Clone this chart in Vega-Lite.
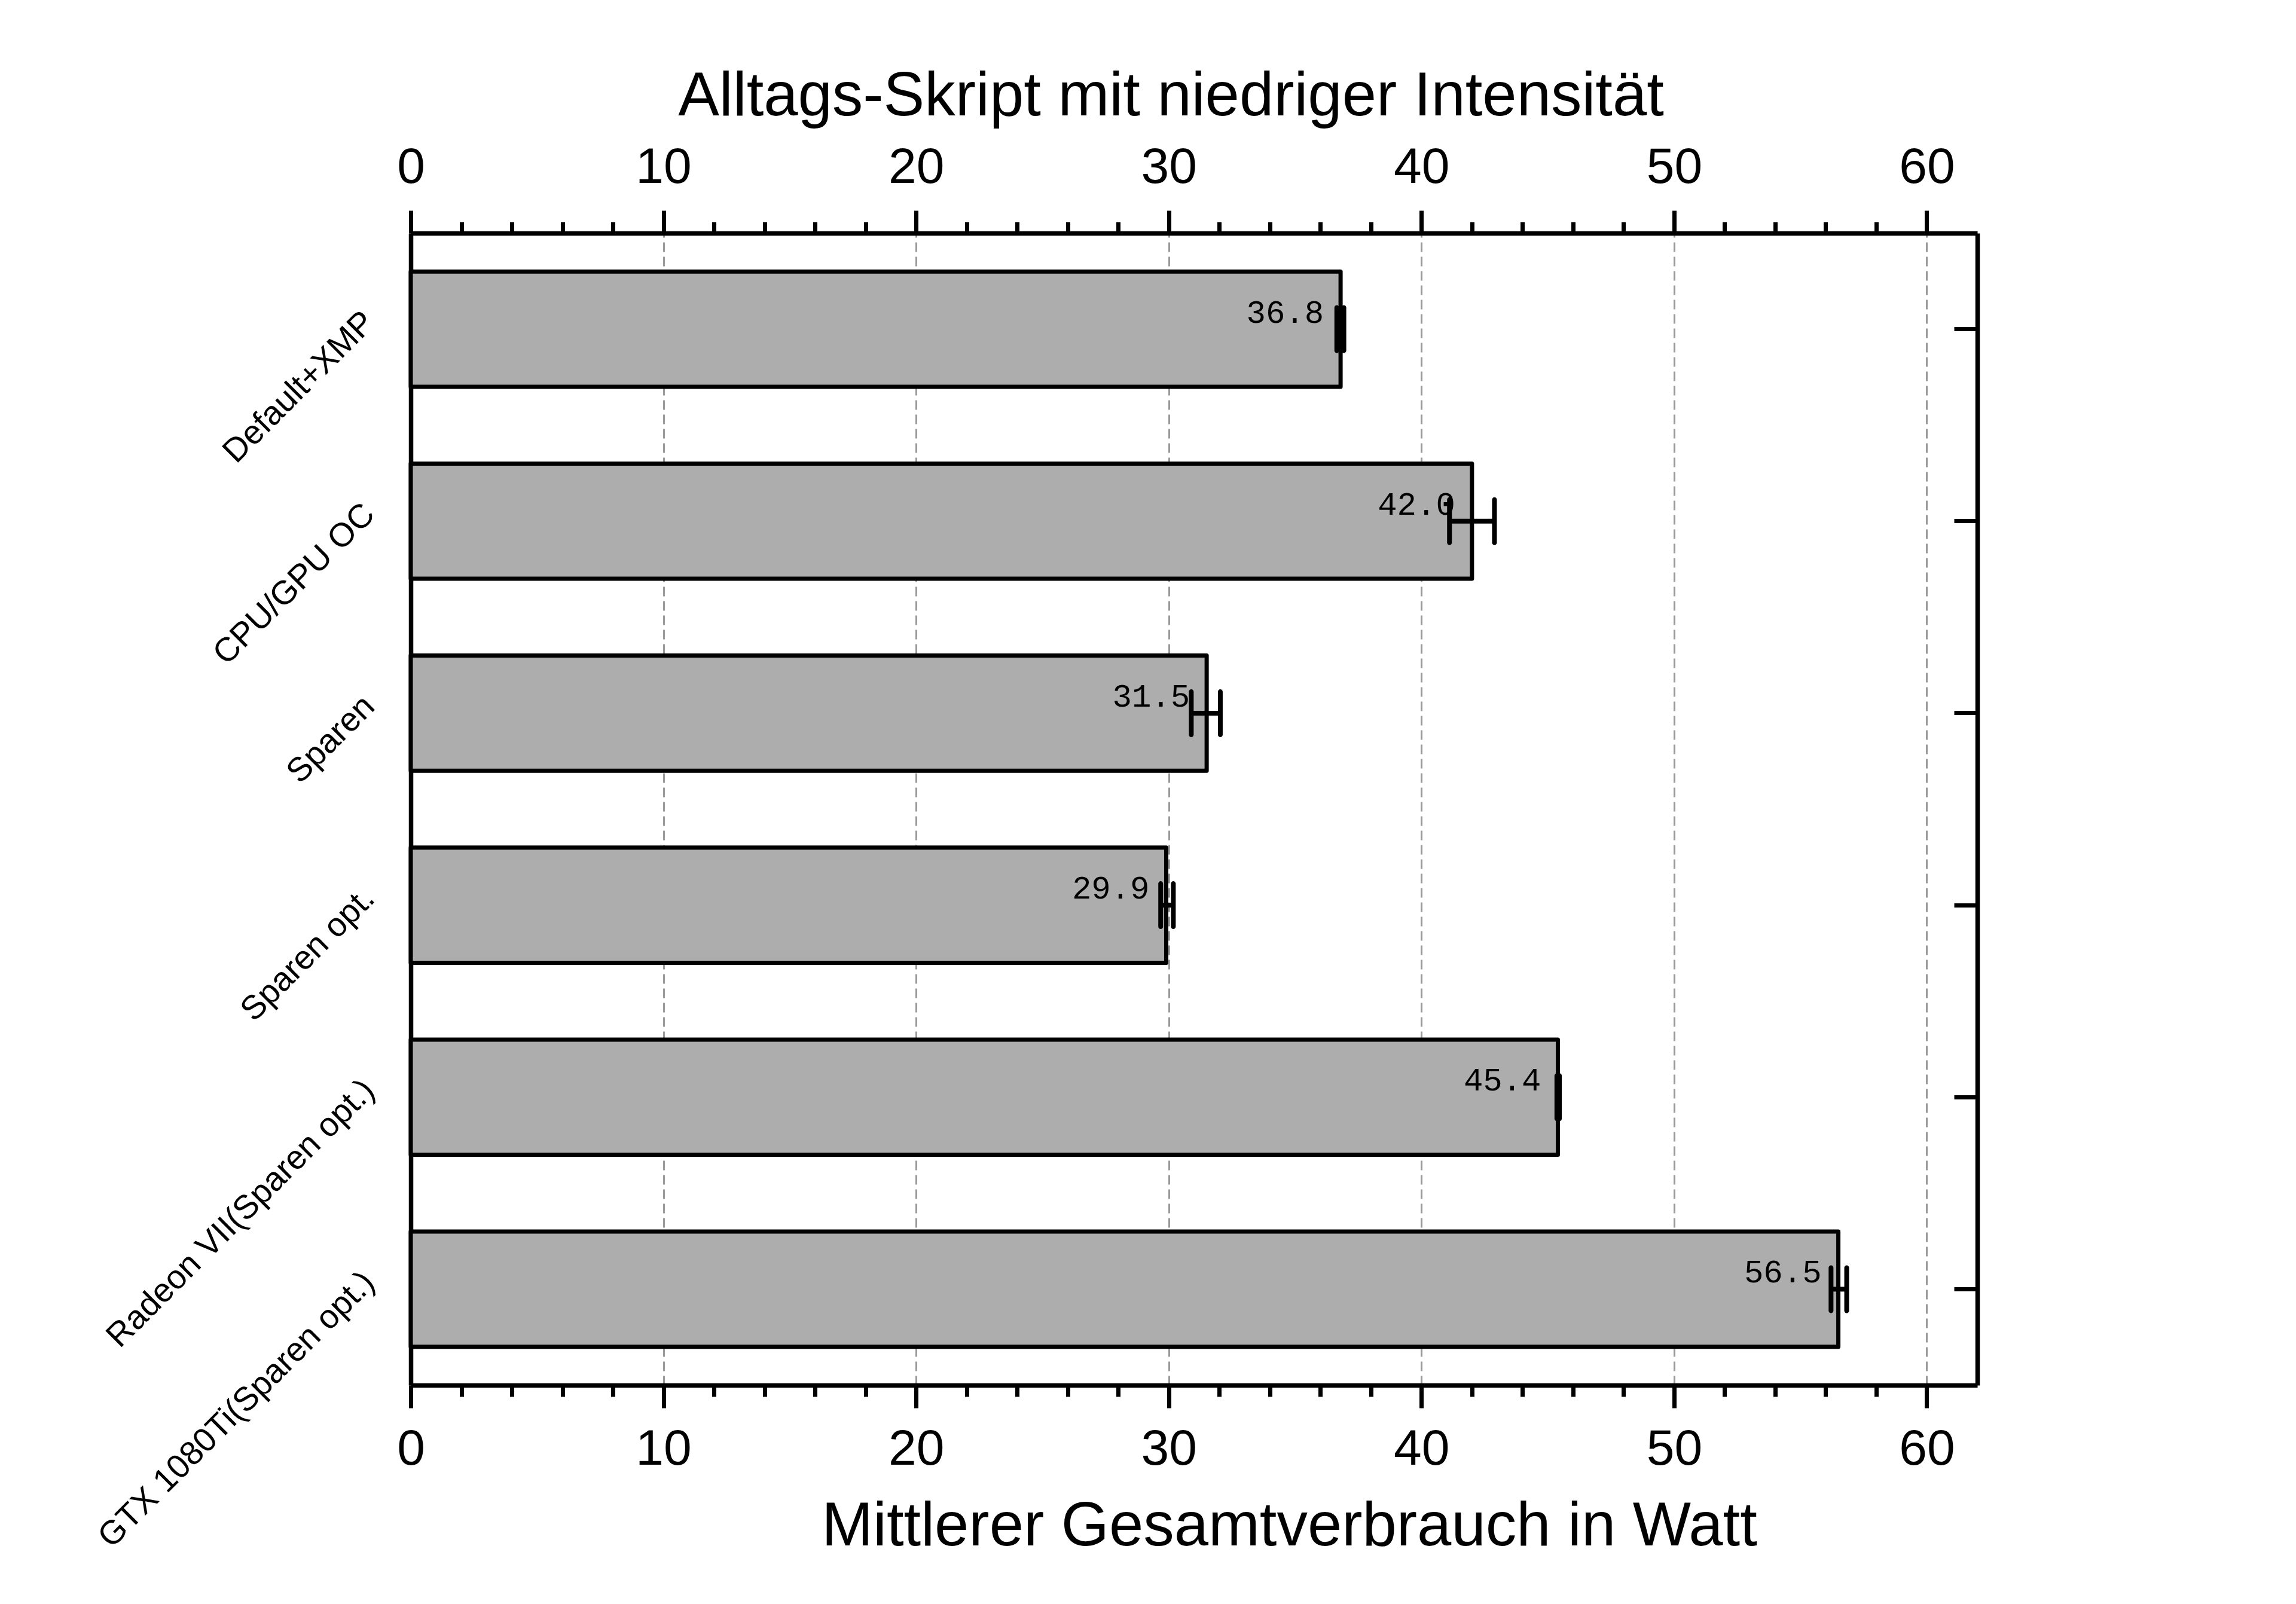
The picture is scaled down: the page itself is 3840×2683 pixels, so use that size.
{
  "$schema": "https://vega.github.io/schema/vega-lite/v6.json",
  "width": 2620,
  "height": 1927,
  "autosize": "none",
  "padding": {"left": 687, "top": 390, "right": 533, "bottom": 366},
  "background": "white",
  "config": {"view": {"stroke": null}, "font": "Liberation Sans"},
  "data": {
    "values": [
      {"cfg": "Default+XMP", "v": 36.8, "lo": 36.65, "hi": 36.93, "lbl": "36.8"},
      {"cfg": "CPU/GPU OC", "v": 42.0, "lo": 41.11, "hi": 42.89, "lbl": "42.0"},
      {"cfg": "Sparen", "v": 31.5, "lo": 30.89, "hi": 32.04, "lbl": "31.5"},
      {"cfg": "Sparen opt.", "v": 29.9, "lo": 29.68, "hi": 30.18, "lbl": "29.9"},
      {"cfg": "Radeon VII(Sparen opt.)", "v": 45.4, "lo": 45.36, "hi": 45.46, "lbl": "45.4"},
      {"cfg": "GTX 1080Ti(Sparen opt.)", "v": 56.5, "lo": 56.21, "hi": 56.83, "lbl": "56.5"}
    ]
  },
  "resolve": {"axis": {"x": "independent", "y": "independent"}},
  "layer": [
    {
      "mark": {"type": "bar", "fill": "#adadad", "stroke": "black", "strokeWidth": 7, "strokeJoin": "round"},
      "encoding": {
        "y": {
          "field": "cfg", "type": "nominal", "sort": null,
          "scale": {"paddingInner": 0.4, "paddingOuter": 0.2},
          "axis": {
            "orient": "left", "ticks": false, "tickSize": 0, "domainWidth": 7.5, "domainColor": "black",
            "labelAngle": -45, "labelAlign": "right", "labelBaseline": "middle", "labelFontSize": 56,
            "labelColor": "black", "labelPadding": 70, "labelOffset": -20, "labelLimit": 0, "title": null, "grid": false
          }
        },
        "x": {
          "field": "v", "type": "quantitative",
          "scale": {"domain": [0, 62], "nice": false, "zero": true},
          "axis": {
            "orient": "bottom", "values": [0, 10, 20, 30, 40, 50, 60], "format": "d",
            "tickSize": 38, "tickWidth": 7, "tickColor": "black",
            "domainWidth": 7.5, "domainColor": "black",
            "grid": true, "gridColor": "#9a9a9a", "gridWidth": 3, "gridDash": [16, 8],
            "labelFontSize": 84, "labelColor": "black", "labelBaseline": "alphabetic", "labelPadding": 94,
            "labelFlush": false, "labelOverlap": false,
            "title": "Mittlerer Gesamtverbrauch in Watt", "titleFontSize": 103, "titleFontWeight": "normal",
            "titleColor": "black", "titleX": 1469, "titleY": 267, "titleBaseline": "alphabetic", "titleAlign": "center"
          }
        }
      }
    },
    {
      "mark": {"type": "rule", "stroke": "black", "strokeWidth": 8},
      "encoding": {
        "y": {
          "field": "cfg", "type": "nominal", "sort": null,
          "axis": {
            "orient": "right", "tickSize": -39, "tickWidth": 7, "tickColor": "black",
            "domainWidth": 7.5, "domainColor": "black", "labels": false, "title": null, "grid": false
          }
        },
        "x": {
          "field": "lo", "type": "quantitative",
          "axis": {
            "orient": "top", "values": [0, 10, 20, 30, 40, 50, 60], "format": "d",
            "tickSize": 38, "tickWidth": 7, "tickColor": "black",
            "domainWidth": 7.5, "domainColor": "black", "grid": false,
            "labelFontSize": 84, "labelColor": "black", "labelBaseline": "alphabetic", "labelPadding": 47,
            "labelFlush": false, "labelOverlap": false,
            "title": "Alltags-Skript mit niedriger Intensität", "titleFontSize": 103, "titleFontWeight": "normal",
            "titleColor": "black", "titleX": 1271, "titleY": -198, "titleBaseline": "alphabetic", "titleAlign": "center"
          }
        },
        "x2": {"field": "hi"}
      }
    },
    {
      "mark": {"type": "tick", "color": "black", "thickness": 8, "size": 80, "cornerRadius": 4, "opacity": 1},
      "encoding": {
        "y": {"field": "cfg", "type": "nominal", "sort": null, "axis": null},
        "x": {
          "field": "lo", "type": "quantitative",
          "axis": {
            "orient": "bottom", "values": [2, 4, 6, 8, 12, 14, 16, 18, 22, 24, 26, 28, 32, 34, 36, 38, 42, 44, 46, 48, 52, 54, 56, 58],
            "tickSize": 19, "tickWidth": 7, "tickColor": "black", "domain": false, "labels": false, "grid": false, "title": null
          }
        }
      }
    },
    {
      "mark": {"type": "tick", "color": "black", "thickness": 8, "size": 80, "cornerRadius": 4, "opacity": 1},
      "encoding": {
        "y": {"field": "cfg", "type": "nominal", "sort": null, "axis": null},
        "x": {
          "field": "hi", "type": "quantitative",
          "axis": {
            "orient": "top", "values": [2, 4, 6, 8, 12, 14, 16, 18, 22, 24, 26, 28, 32, 34, 36, 38, 42, 44, 46, 48, 52, 54, 56, 58],
            "tickSize": 19, "tickWidth": 7, "tickColor": "black", "domain": false, "labels": false, "grid": false, "title": null
          }
        }
      }
    },
    {
      "mark": {"type": "text", "font": "Liberation Mono", "fontSize": 54, "align": "right", "baseline": "alphabetic", "dx": -28, "dy": -11, "color": "black"},
      "encoding": {
        "y": {"field": "cfg", "type": "nominal", "sort": null, "axis": null},
        "x": {"field": "v", "type": "quantitative", "axis": null},
        "text": {"field": "lbl", "type": "nominal"}
      }
    }
  ]
}
